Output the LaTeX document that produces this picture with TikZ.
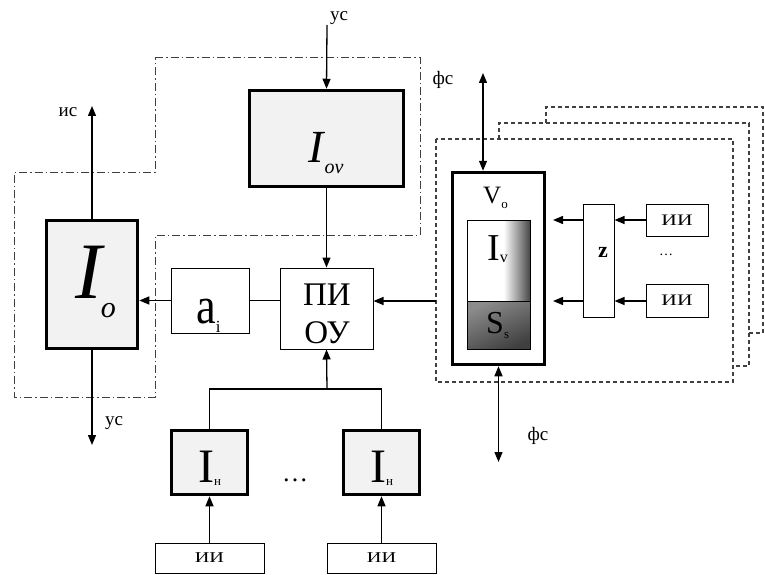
\documentclass[tikz,border=0pt]{standalone}
\usepackage{fontspec}
\setmainfont{Liberation Serif}
\usetikzlibrary{arrows.meta}
\pgfdeclarehorizontalshading{ivshade}{100bp}{color(0bp)=(white); color(25bp)=(white); color(54bp)=(white); color(75bp)=(black!72); color(100bp)=(black!72)}
\newcommand{\fs}[1]{\fontsize{#1}{#1}\selectfont}
\tikzset{
  thickbox/.style={draw, line width=3.5pt, fill=black!5, inner sep=0pt},
  thinbox/.style={draw, line width=1pt, fill=white, inner sep=0pt},
  conn/.style={line width=1.3pt},
  arr/.style={conn, -{Triangle[length=10pt,width=8pt]}},
  darr/.style={conn, {Triangle[length=10pt,width=8pt]}-{Triangle[length=10pt,width=8pt]}},
  lbl/.style={font=\fs{19}, inner sep=0pt, anchor=base},
  txt/.style={inner sep=0pt, anchor=base west},
  dashdot/.style={draw=black!75, line width=1pt, dash pattern=on 8pt off 3pt on 1.5pt off 3pt},
  dsh/.style={draw=black!75, line width=1.2pt, dash pattern=on 4pt off 3pt},
}
\begin{document}
\begin{tikzpicture}[x=1pt,y=-1pt]
\useasboundingbox[fill=white] (0,0) rectangle (765,575);

% dash-dot outline
\draw[dashdot] (155,58) -- (420,58) -- (420,235) -- (155,235) -- (155,397) -- (14,397) -- (14,172) -- (155,172) -- cycle;

% dashed stacked boxes
\draw[dsh] (546,123) -- (546,107) -- (763,107) -- (763,333) -- (749,333);
\draw[dsh] (499,139) -- (499,123) -- (749,123) -- (749,366) -- (733,366);
\draw[dsh] (436,139) rectangle (733,382);

% boxes
\node[thickbox, minimum width=91pt, minimum height=128pt] (io) at (92,284.5) {};
\node[thickbox, minimum width=154pt, minimum height=96pt] (iov) at (326.5,138.5) {};
\node[thinbox, minimum width=93pt, minimum height=81pt] (pi) at (326.5,308.5) {};
\node[thinbox, minimum width=78pt, minimum height=65pt] (ai) at (210,300.5) {};
\node[thickbox, minimum width=76pt, minimum height=64pt] (in1) at (209.5,462.5) {};
\node[thickbox, minimum width=76pt, minimum height=64pt] (in2) at (381.5,462.5) {};
\node[thinbox, minimum width=109pt, minimum height=30pt] (iib1) at (209.5,558) {};
\node[thinbox, minimum width=109pt, minimum height=30pt] (iib2) at (381.5,558) {};
\node[draw, line width=3.5pt, fill=white, inner sep=0pt, minimum width=92pt, minimum height=192pt] (vo) at (498.5,268.5) {};
\node[thinbox, minimum width=31pt, minimum height=113pt] (z) at (598.5,260.5) {};
\node[thinbox, minimum width=62pt, minimum height=32pt] (iia) at (677,220) {};
\node[thinbox, minimum width=62pt, minimum height=33pt] (iib) at (677,300.5) {};

% inner shaded block
\shade[shading=ivshade] (467,220) rectangle (530,301);
\shade[top color=black!45, bottom color=black!75, shading angle=25] (467,301) rectangle (530,349);
\draw[line width=1pt] (467,220) rectangle (530,349);
\draw[line width=1pt] (467,301) -- (530,301);

% texts
\node[txt] (tio) at (75,298) {\fs{80}\itshape I\kern-1pt\raisebox{-19pt}{\fs{30}\itshape o}};
\node[txt] (tiov) at (308,162) {\fs{46}\itshape I\kern1pt\raisebox{-11pt}{\fs{20}\itshape ov}};
\node[inner sep=0pt, anchor=base, font=\fs{33}] (tpi) at (327,305) {ПИ};
\node[inner sep=0pt, anchor=base, font=\fs{33}] (tou) at (327,343) {ОУ};
\node[txt] (tai) at (196,323) {\scalebox{0.85}[1]{\fs{52}a}\raisebox{-9pt}{\fs{17}i}};
\node[txt] (tin1) at (198,482) {\fs{48}I\raisebox{-3pt}{\fs{13}н}};
\node[txt] (tin2) at (370,482) {\fs{48}I\raisebox{-3pt}{\fs{13}н}};
\node[inner sep=0pt, font=\fs{15}] (tii1) at (iib1) {\scalebox{1.35}[1]{ИИ}};
\node[inner sep=0pt, font=\fs{15}] (tii2) at (iib2) {\scalebox{1.35}[1]{ИИ}};
\node[inner sep=0pt, font=\fs{16}] (tiia) at (iia) {\scalebox{1.35}[1]{ИИ}};
\node[inner sep=0pt, font=\fs{16}] (tiib) at (iib) {\scalebox{1.35}[1]{ИИ}};
\node[txt] (tvo) at (483,203) {\fs{25}V\raisebox{-5pt}{\fs{13}o}};
\node[txt] (tiv) at (487,260) {\fs{38}I\raisebox{-2pt}{\fs{16}v}};
\node[txt] (tss) at (486,333) {\fs{32}S\raisebox{-5pt}{\fs{13}s}};
\node[inner sep=0pt, font=\fs{22}\bfseries] (tz) at (603,252) {z};
\node[inner sep=0pt, font=\fs{26}] (dots1) at (295,480) {…};
\node[inner sep=0pt, font=\fs{14}] (dots2) at (666,255) {…};

% labels
\node[lbl] (lus1) at (339,21) {ус};
\node[lbl] (lis) at (68,117) {ис};
\node[lbl] (lus2) at (114,425) {ус};
\node[lbl] (lfc1) at (443,85) {фс};
\node[lbl] (lfc2) at (538,440) {фс};

% coordinates
\coordinate (ustop) at (327,25);
\coordinate (istop) at (92,106);
\coordinate (usbot) at (92,445);
\coordinate (jn) at (327,389);
\coordinate (fin) at (436,301);
\coordinate (fctop) at (483,73);
\coordinate (fcbot) at (498.5,462);
\coordinate (vina) at (553,220);
\coordinate (vinb) at (553,301);

% connectors
\draw[arr] (ustop) -- (iov.north);
\draw[arr] (iov.south) -- (pi.north);
\draw[arr] (io.north) -- (istop);
\draw[arr] (io.south) -- (usbot);
\draw[arr] (ai.west) -- (ai.west -| io.east);
\draw[conn] (ai.east) -- (ai.east -| pi.west);
\draw[arr] (fin) -- (fin -| pi.east);
\draw[conn] (in1.north) -- (in1.north |- jn) -- (in2.north |- jn) -- (in2.north);
\draw[arr] (jn) -- (pi.south);
\draw[arr] (iib1.north) -- (in1.south);
\draw[arr] (iib2.north) -- (in2.south);
\draw[darr] (fctop) -- (fctop |- vo.north);
\draw[darr] (vo.south) -- (fcbot);
\draw[arr] (iia.west) -- (iia.west -| z.east);
\draw[arr] (vina -| z.west) -- (vina);
\draw[arr] (iib.west |- vinb) -- (vinb -| z.east);
\draw[arr] (vinb -| z.west) -- (vinb);
\end{tikzpicture}
\end{document}
